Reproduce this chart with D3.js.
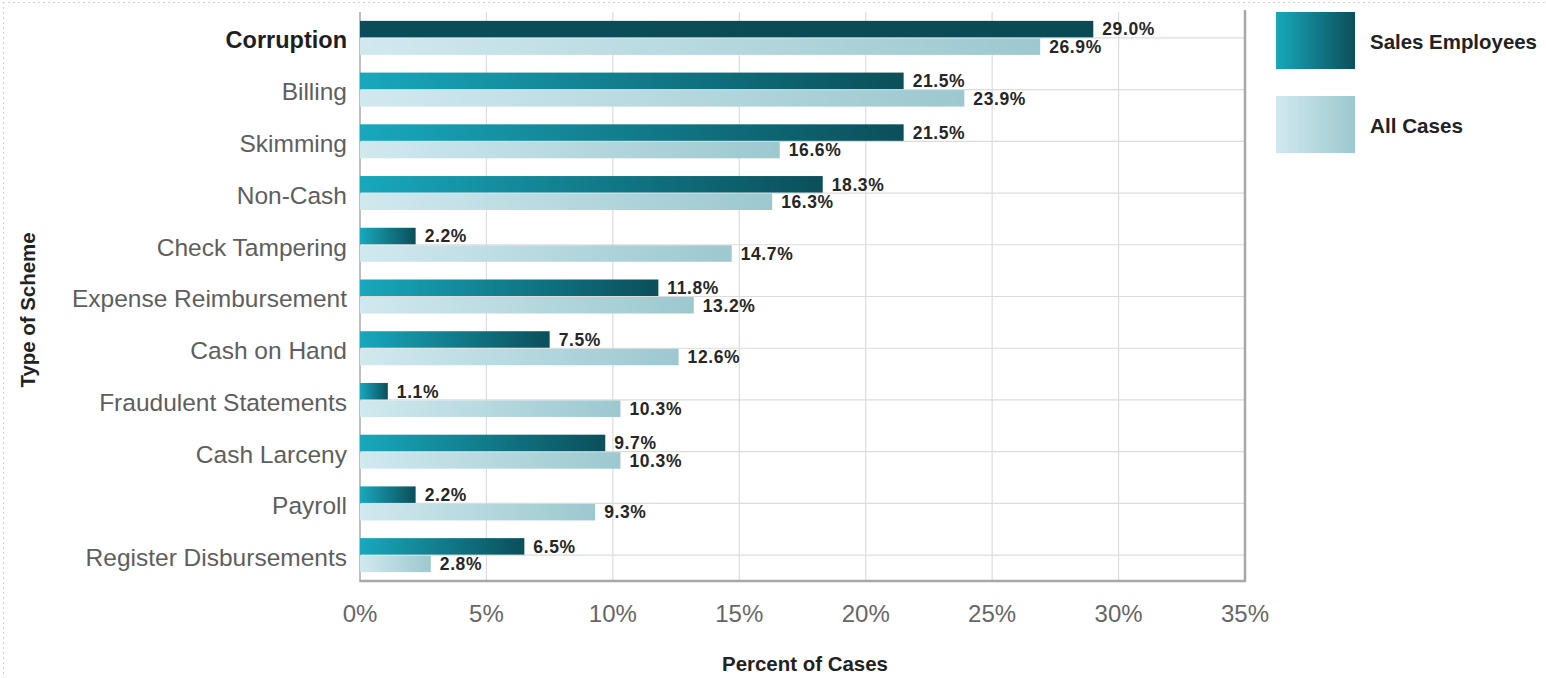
<!DOCTYPE html>
<html><head><meta charset="utf-8">
<script src="https://cdn.jsdelivr.net/npm/d3@7/dist/d3.min.js"></script>
<style>
html,body{margin:0;padding:0;background:#fff;}
svg{display:block;}
</style></head>
<body><svg id="chart" width="1546" height="678"></svg>
<script>
const categories = ["Corruption","Billing","Skimming","Non-Cash","Check Tampering","Expense Reimbursement","Cash on Hand","Fraudulent Statements","Cash Larceny","Payroll","Register Disbursements"];
const salesEmployees = [29.0,21.5,21.5,18.3,2.2,11.8,7.5,1.1,9.7,2.2,6.5];
const allCases = [26.9,23.9,16.6,16.3,14.7,13.2,12.6,10.3,10.3,9.3,2.8];
const xTicks = [0,5,10,15,20,25,30,35];
const seriesNames = ["Sales Employees","All Cases"];
const highlighted = "Corruption";

const svg = d3.select("#chart");
const W = 1546, H = 678;
const m = {left:360, right:1245, top:12, bottom:581};

const defs = svg.append("defs");
function grad(id, c0, c1){
  const g = defs.append("linearGradient").attr("id",id).attr("x1","0").attr("x2","1").attr("y1","0").attr("y2","0");
  g.append("stop").attr("offset","0").attr("stop-color",c0);
  g.append("stop").attr("offset","1").attr("stop-color",c1);
}
grad("gSales","#18a8bc","#0b4f5a");
grad("gAll","#d0e9ef","#9cc8cf");
grad("gHi","#0a4d58","#0a4a55");

// dotted frame
svg.append("line").attr("x1",3).attr("x2",W).attr("y1",2.5).attr("y2",2.5)
  .attr("stroke","#d4d4d4").attr("stroke-dasharray","2,3");
svg.append("line").attr("x1",3.5).attr("x2",3.5).attr("y1",2).attr("y2",H)
  .attr("stroke","#d4d4d4").attr("stroke-dasharray","2,3");

const x = d3.scaleLinear().domain([0,35]).range([m.left,m.right]);
const y = d3.scaleBand().domain(categories).range([m.top,m.bottom]);

// vertical gridlines
svg.append("g").selectAll("line").data(xTicks.filter(t=>t>0&&t<35)).join("line")
  .attr("x1",d=>x(d)).attr("x2",d=>x(d)).attr("y1",m.top).attr("y2",m.bottom)
  .attr("stroke","#dcdcdc").attr("stroke-width",1.2);
// horizontal gridlines at band centers
svg.append("g").selectAll("line").data(categories).join("line")
  .attr("x1",m.left).attr("x2",m.right)
  .attr("y1",d=>y(d)+y.bandwidth()/2).attr("y2",d=>y(d)+y.bandwidth()/2)
  .attr("stroke","#dcdcdc").attr("stroke-width",1.2);

// frame lines
svg.append("line").attr("x1",m.left).attr("x2",m.left).attr("y1",m.top).attr("y2",m.bottom+1)
  .attr("stroke","#a8a8a8").attr("stroke-width",1.5);
svg.append("line").attr("x1",m.right).attr("x2",m.right).attr("y1",m.top-2).attr("y2",m.bottom+1)
  .attr("stroke","#a8a8a8").attr("stroke-width",2.5);
svg.append("line").attr("x1",m.left).attr("x2",m.right+1).attr("y1",m.bottom).attr("y2",m.bottom)
  .attr("stroke","#a8a8a8").attr("stroke-width",2.5);

const barH = 16.5;
const rows = categories.map((c,i)=>({c, s:salesEmployees[i], a:allCases[i]}));
const cy = d => y(d.c)+y.bandwidth()/2;

// sales bars
svg.append("g").selectAll("rect").data(rows).join("rect")
  .attr("x",x(0)).attr("y",d=>cy(d)-barH-0.5)
  .attr("width",d=>x(d.s)-x(0)).attr("height",barH)
  .attr("fill",d=>d.c===highlighted?"url(#gHi)":"url(#gSales)");
// all bars
svg.append("g").selectAll("rect").data(rows).join("rect")
  .attr("x",x(0)).attr("y",d=>cy(d)+0.5)
  .attr("width",d=>x(d.a)-x(0)).attr("height",barH)
  .attr("fill","url(#gAll)");

const valFont = "'Liberation Sans', Arial, sans-serif";
svg.append("g").selectAll("text").data(rows).join("text")
  .attr("x",d=>x(d.s)+9).attr("y",d=>cy(d)-barH/2-0.5).attr("dy","0.36em")
  .attr("font-family",valFont).attr("font-weight","bold").attr("font-size",17.5)
  .attr("letter-spacing","0.6").attr("fill","#262626")
  .text(d=>d.s.toFixed(1)+"%");
svg.append("g").selectAll("text").data(rows).join("text")
  .attr("x",d=>x(d.a)+9).attr("y",d=>cy(d)+barH/2+0.5).attr("dy","0.36em")
  .attr("font-family",valFont).attr("font-weight","bold").attr("font-size",17.5)
  .attr("letter-spacing","0.6").attr("fill","#262626")
  .text(d=>d.a.toFixed(1)+"%");

// category labels
const catFont = "'Liberation Sans', Arial, sans-serif";
svg.append("g").selectAll("text").data(categories).join("text")
  .attr("x",m.left-13).attr("y",d=>y(d)+y.bandwidth()/2+2).attr("dy","0.36em")
  .attr("text-anchor","end").attr("font-family",catFont).attr("font-size",d=>d===highlighted?23.5:24.5)
  .attr("font-weight",d=>d===highlighted?"bold":"normal")
  .attr("fill",d=>d===highlighted?"#1e1e1e":"#5e5e5e")
  .text(d=>d);

// x tick labels
svg.append("g").selectAll("text").data(xTicks).join("text")
  .attr("x",d=>x(d)).attr("y",613).attr("dy","0.36em").attr("text-anchor","middle")
  .attr("font-family",catFont).attr("font-size",24).attr("fill","#666")
  .text(d=>d+"%");

const condFont = "'Liberation Sans', Arial, sans-serif";
svg.append("text").attr("x",805).attr("y",671).attr("text-anchor","middle")
  .attr("font-family",condFont).attr("font-weight","bold").attr("font-size",21).attr("fill","#222")
  .attr("textLength",166).attr("lengthAdjust","spacingAndGlyphs")
  .text("Percent of Cases");
svg.append("text").attr("transform","translate(35,310) rotate(-90)")
  .attr("text-anchor","middle")
  .attr("font-family",condFont).attr("font-weight","bold").attr("font-size",21).attr("fill","#222")
  .attr("textLength",155).attr("lengthAdjust","spacingAndGlyphs")
  .text("Type of Scheme");

// legend
const legY = [12, 96];
const legW = [167, 93];
const leg = svg.append("g").selectAll("g").data(seriesNames).join("g")
  .attr("transform",(d,i)=>`translate(1276,${legY[i]})`);
leg.append("rect").attr("width",79).attr("height",57)
  .attr("fill",(d,i)=>i===0?"url(#gSales)":"url(#gAll)");
leg.append("text").attr("x",94).attr("y",37)
  .attr("font-family",condFont).attr("font-weight","bold").attr("font-size",21).attr("fill","#222")
  .attr("textLength",(d,i)=>legW[i]).attr("lengthAdjust","spacingAndGlyphs")
  .text(d=>d);
</script></body></html>
